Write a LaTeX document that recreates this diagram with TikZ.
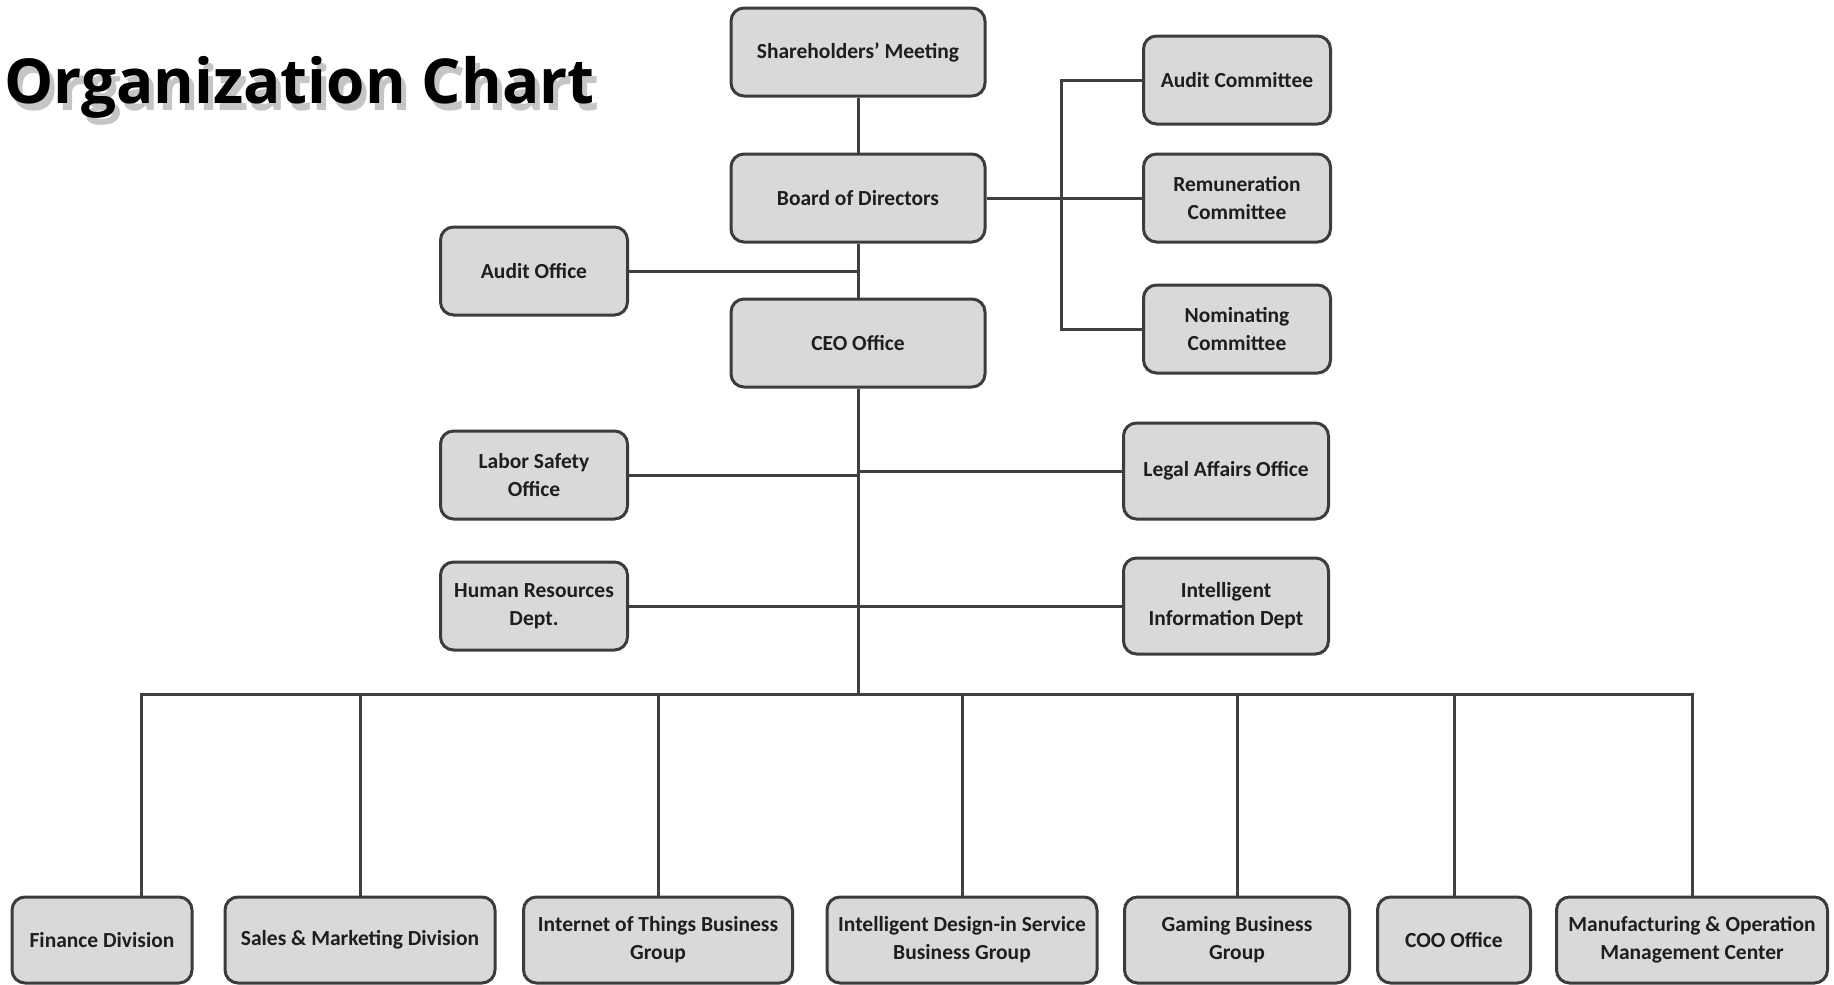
\documentclass[tikz,border=0pt]{standalone}
\usepackage{fontspec}
\setmainfont{Carlito}
\newfontfamily\titlefont{Open Sans}
\definecolor{boxfill}{HTML}{D9D9D9}
\definecolor{boxline}{HTML}{3C3C3C}
\definecolor{boxtext}{HTML}{1E1E1E}
\definecolor{linkcol}{HTML}{404040}
\begin{document}
\begin{tikzpicture}[x=1pt, y=-1pt,
                    org_node/.style={rectangle, rounded corners=13pt, draw=boxline, fill=boxfill, line width=3pt, align=center, inner sep=2pt, text=boxtext, font=\fontsize{21.5}{28}\selectfont\bfseries},
                    top_node/.style={org_node, minimum width=254pt, minimum height=88pt},
                    side_node/.style={org_node, minimum width=187pt, minimum height=88pt},
                    wide_node/.style={org_node, minimum width=205pt, minimum height=96pt},
                    low_node/.style={org_node, minimum width=#1, minimum height=86pt},
                    link/.style={draw=linkcol, line width=3pt},
                    title_text/.style={anchor=base west, inner sep=0pt, font=\fontsize{62}{68}\selectfont\titlefont\bfseries}
                ]
                    \useasboundingbox (0,0) rectangle (1834,985);
                    \node[title_text, text=black!45, opacity=0.5] (title_shadow) at (9,110) {Organization Chart};
                    \node[title_text] (title) at (4,103) {Organization Chart};

                    \node[top_node] (meeting) at (858,52) {Shareholders' Meeting};
                    \node[top_node] (board) at (858,198) {Board of Directors};
                    \node[top_node] (ceo) at (858,343) {CEO Office};

                    \node[side_node] (audit_office) at (534,271) {Audit Office};
                    \node[side_node] (audit_com) at (1237,80) {Audit Committee};
                    \node[side_node] (pay_com) at (1237,198) {Remuneration\\Committee};
                    \node[side_node] (nom_com) at (1237,329) {Nominating\\Committee};

                    \node[side_node] (safety) at (534,475) {Labor Safety\\Office};
                    \node[side_node] (hr) at (534,606) {Human Resources\\Dept.};
                    \node[wide_node] (legal) at (1226,471) {Legal Affairs Office};
                    \node[wide_node] (info) at (1226,606) {Intelligent\\Information Dept};

                    \node[low_node=180pt] (finance) at (102,940) {Finance Division};
                    \node[low_node=270pt] (sales) at (360,940) {Sales \& Marketing Division};
                    \node[low_node=269pt] (iot) at (658,940) {Internet of Things Business\\Group};
                    \node[low_node=270pt] (design) at (962,940) {Intelligent Design-in Service\\Business Group};
                    \node[low_node=225pt] (gaming) at (1237,940) {Gaming Business\\Group};
                    \node[low_node=153pt] (coo) at (1454,940) {COO Office};
                    \node[low_node=271pt] (plant) at (1692,940) {Manufacturing \& Operation\\Management Center};

                    \coordinate (com_bar) at (1061,198);
                    \coordinate (bus) at (858,694);
                    \coordinate (finance_top) at ([xshift=39pt]finance.north);

                    \draw[link] (meeting) -- (board);
                    \draw[link] (board) -- (ceo);
                    \draw[link] (audit_office.east) -- (audit_office.east -| board.south);
                    \draw[link] (board.east) -- (pay_com.west);
                    \draw[link] (audit_com.west) -| (com_bar) |- (nom_com.west);
                    \draw[link] (ceo.south) -- (bus);
                    \draw[link] (safety.east) -- (safety.east -| ceo.south);
                    \draw[link] (legal.west) -- (legal.west -| ceo.south);
                    \draw[link] (hr.east) -- (info.west);
                    \foreach \unit in {finance_top, sales.north, iot.north, design.north, gaming.north, coo.north, plant.north}
                        \draw[link] (\unit) |- (bus);
                \end{tikzpicture}
\end{document}
